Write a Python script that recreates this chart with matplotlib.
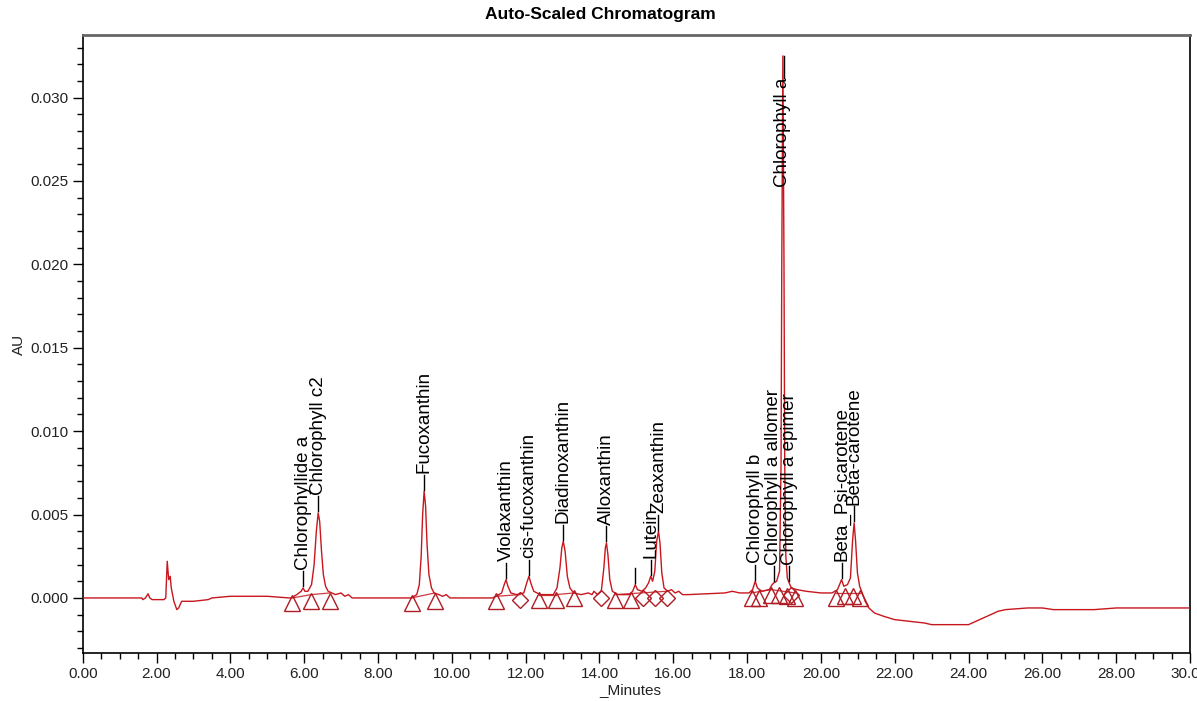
import matplotlib
matplotlib.use("Agg")
import matplotlib.pyplot as plt
from matplotlib.ticker import MultipleLocator, FormatStrFormatter

plt.rcParams['font.family'] = ['Liberation Sans', 'DejaVu Sans']

# ---- trace (minutes, AU) ----
time_min = [
    0.00, 1.60, 1.63, 1.70, 1.77, 1.82, 1.88, 2.20, 2.25, 2.29, 2.33, 2.37, 2.40, 2.47,
    2.55, 2.60, 2.68, 3.00, 3.40, 3.50, 4.00, 4.50, 5.00, 5.60,
    5.65, 5.80, 5.92, 5.97, 6.02, 6.10, 6.20, 6.27, 6.33, 6.38, 6.42, 6.47, 6.52, 6.58,
    6.65, 6.75, 6.85, 7.00, 7.10, 7.20, 7.30,
    8.90, 9.05, 9.12, 9.17, 9.21, 9.25, 9.29, 9.33, 9.38, 9.45, 9.52, 9.65, 9.75, 9.85,
    9.95, 11.10,
    11.20, 11.35, 11.42, 11.47, 11.52, 11.60, 11.75, 11.95, 12.03, 12.09, 12.14, 12.22,
    12.40, 12.75, 12.85, 12.93, 12.98, 13.02, 13.07, 13.13, 13.20, 13.30, 13.50, 13.70,
    13.80, 13.85, 13.95, 14.05, 14.12, 14.16, 14.19, 14.23, 14.28, 14.35, 14.50, 14.80,
    14.90, 14.97, 15.03, 15.15, 15.25, 15.33, 15.39, 15.44, 15.50, 15.55, 15.60, 15.64,
    15.69, 15.75, 15.85, 15.95, 16.05, 16.15, 16.25, 16.40,
    17.40, 17.60, 17.80, 18.05, 18.15, 18.22, 18.28, 18.40, 18.60, 18.68, 18.72, 18.80,
    18.88, 18.92, 18.94, 18.97, 19.00, 19.02, 19.05, 19.09, 19.14, 19.20, 19.35, 19.60,
    20.00, 20.30, 20.45, 20.56, 20.62, 20.72, 20.80, 20.86, 20.90, 20.94, 20.99, 21.05,
    21.12, 21.20, 21.30, 21.45, 21.70, 22.00, 22.40, 22.80, 23.00, 24.00, 24.20, 24.50,
    24.80, 25.00, 25.60, 26.00, 26.30, 27.40, 28.00, 30.00,
]
au = [
    0.0000, 0.0000, -0.0001, 0.0000, 0.00025, 0.0000, -0.0001, -0.0001, 0.0000, 0.0022,
    0.0011, 0.0013, 0.0006, -0.0002, -0.0007, -0.0006, -0.0002, -0.0002, -0.0001, 0.0000,
    0.0001, 0.0001, 0.0001, 0.0000,
    0.0000, 0.0002, 0.0004, 0.0006, 0.0004, 0.0004, 0.0008, 0.0020, 0.0040, 0.0051,
    0.0046, 0.0028, 0.0014, 0.0007, 0.0004, 0.0003, 0.0002, 0.0003, 0.0001, 0.0002,
    0.0000,
    0.0000, 0.0002, 0.0008, 0.0025, 0.0050, 0.0064, 0.0055, 0.0032, 0.0014, 0.0006,
    0.0003, 0.0002, 0.0001, 0.0002, 0.0000, 0.0000,
    0.0001, 0.0003, 0.0008, 0.0011, 0.0007, 0.0003, 0.0002, 0.0003, 0.0009, 0.0013,
    0.0009, 0.0004, 0.0002, 0.0002, 0.0006, 0.0018, 0.0030, 0.0034, 0.0028, 0.0013,
    0.0006, 0.0003, 0.0002, 0.0003, 0.0002, 0.0004, 0.0002, 0.0004, 0.0018, 0.0030,
    0.0033, 0.0026, 0.0011, 0.0004, 0.0002, 0.0002, 0.0004, 0.0008, 0.0005, 0.0004,
    0.0006, 0.0009, 0.0013, 0.0010, 0.0016, 0.0034, 0.0040, 0.0033, 0.0015, 0.0006,
    0.0004, 0.0005, 0.0003, 0.0004, 0.0002, 0.0002,
    0.0003, 0.0004, 0.0003, 0.0003, 0.0005, 0.0010, 0.0006, 0.0004, 0.0005, 0.0008,
    0.0009, 0.0010, 0.0016, 0.0080, 0.0200, 0.0325, 0.0200, 0.0080, 0.0025, 0.0012,
    0.0009, 0.0006, 0.0005, 0.0004,
    0.0003, 0.0003, 0.0005, 0.0011, 0.0007, 0.0008, 0.0012, 0.0035, 0.0045, 0.0034,
    0.0015, 0.0007, 0.0003, -0.0002, -0.0006, -0.0009, -0.0011, -0.0013, -0.0014,
    -0.0015, -0.0016, -0.0016, -0.0014, -0.0011, -0.0008, -0.0007, -0.0006, -0.0006,
    -0.0007, -0.0007, -0.0006, -0.0006,
]

# ---- peak labels ----
peak_names = [
    "Chlorophyllide a", "Chlorophyll c2", "Fucoxanthin", "Violaxanthin",
    "cis-fucoxanthin", "Diadinoxanthin", "Alloxanthin", "Lutein", "Zeaxanthin",
    "Chlorophyll b", "Chlorophyll a allomer", "Chlorophyll a epimer",
    "Beta_Psi-carotene", "Beta-carotene",
]
peak_times = [5.97, 6.38, 9.25, 11.47, 12.09, 13.02, 14.19, 15.39, 15.60,
              18.22, 18.72, 19.14, 20.56, 20.90]
peak_heights = [0.0006, 0.0051, 0.0064, 0.0011, 0.0013, 0.0034, 0.0033, 0.0013, 0.0040,
                0.0010, 0.0009, 0.0009, 0.0011, 0.0045]
unlabeled_peak_time = [14.97]
unlabeled_peak_height = [0.0008]

main_peak_name = "Chlorophyll a"
main_peak_time = 18.97
main_peak_height = 0.0325

# ---- integration marks ----
tri_times = [5.68, 6.19, 6.70, 8.91, 9.54, 11.21, 12.37, 12.81, 13.32, 14.42, 14.85,
             18.12, 18.33, 18.64, 18.86, 19.07, 19.31, 20.42, 20.64, 20.86, 21.05]
tri_values = [-0.0003, -0.0002, -0.0002, -0.0003, -0.0002, -0.0002, -0.0001, -0.0001,
              0.0000, -0.0001, -0.0001, 0.0000, 0.0000, 0.0002, 0.0002, 0.0001, 0.0000,
              0.0000, 0.0001, 0.0001, 0.0000]
dia_times = [11.85, 14.03, 15.18, 15.50, 15.82, 19.19]
dia_values = [-0.0001, 0.0000, 0.0000, 0.0000, 0.0000, 0.0002]

# ---- baselines drawn by the integrator ----
base_t0 = [5.68, 6.19, 8.91, 11.21, 12.37, 12.81, 14.42, 18.12, 18.64, 20.42]
base_v0 = [0.0000, 0.0002, 0.0000, 0.0001, 0.0002, 0.0002, 0.0002, 0.0003, 0.0005, 0.0003]
base_t1 = [6.19, 6.70, 9.54, 11.85, 12.81, 13.32, 15.82, 18.64, 19.31, 21.05]
base_v1 = [0.0002, 0.0003, 0.0003, 0.0002, 0.0002, 0.0003, 0.0004, 0.0005, 0.0003, 0.0003]

x_ticks = [0, 2, 4, 6, 8, 10, 12, 14, 16, 18, 20, 22, 24, 26, 28, 30]
y_ticks = [0.000, 0.005, 0.010, 0.015, 0.020, 0.025, 0.030]

RED = '#c8161d'
MARK = '#b01c24'

fig = plt.figure(figsize=(11.97, 7.01), dpi=100)
ax = fig.add_axes([82.7 / 1197, 48 / 701, (1190 - 82.7) / 1197, (653 - 35) / 701])

# integrator baselines
for t0, v0, t1, v1 in zip(base_t0, base_v0, base_t1, base_v1):
    ax.plot([t0, t1], [v0, v1], color=RED, lw=0.9, alpha=0.85, zorder=2)

ax.plot(time_min, au, color=RED, lw=1.0, zorder=3)

ax.plot(tri_times, tri_values, linestyle='none', marker='^', markersize=11,
        markerfacecolor='none', markeredgecolor=MARK, markeredgewidth=1.0, zorder=4)
ax.plot(dia_times, dia_values, linestyle='none', marker='D', markersize=8,
        markerfacecolor='none', markeredgecolor=MARK, markeredgewidth=1.0, zorder=4)

# peak labels
for name, t, h in zip(peak_names, peak_times, peak_heights):
    ax.plot([t, t], [h + 0.0001, h + 0.0010], color='black', lw=1.0, zorder=5)
    ax.text(t, h + 0.0011, name, rotation=90, ha='center', va='bottom',
            fontsize=13.5, color='black', zorder=6)
for t, h in zip(unlabeled_peak_time, unlabeled_peak_height):
    ax.plot([t, t], [h + 0.0001, h + 0.0010], color='black', lw=1.0, zorder=5)

ax.plot([main_peak_time + 0.03, main_peak_time + 0.03],
        [main_peak_height, main_peak_height - 0.0013], color='black', lw=1.0, zorder=5)
ax.text(main_peak_time - 0.02, main_peak_height - 0.0013, main_peak_name, rotation=90,
        ha='center', va='top', fontsize=13.5, color='black', zorder=6)

ax.set_xlim(0, 30)
ax.set_ylim(-0.0033, 0.03375)
ax.set_xticks(x_ticks)
ax.set_yticks(y_ticks)
ax.xaxis.set_major_formatter(FormatStrFormatter('%.2f'))
ax.yaxis.set_major_formatter(FormatStrFormatter('%.3f'))
ax.xaxis.set_minor_locator(MultipleLocator(0.5))
ax.yaxis.set_minor_locator(MultipleLocator(0.001))
ax.tick_params(axis='both', which='major', direction='out', length=7, width=1,
               labelsize=11, pad=3, colors='black', labelcolor='#222222')
ax.tick_params(axis='both', which='minor', direction='out', length=4, width=1)

for side in ['left', 'bottom', 'right']:
    ax.spines[side].set_color('black')
    ax.spines[side].set_linewidth(1.2)
ax.spines['top'].set_color('#666666')
ax.spines['top'].set_linewidth(2.0)

fig.text(600 / 1197, 1 - 14 / 701, "Auto-Scaled Chromatogram", ha='center', va='center',
         fontsize=12.5, fontweight='bold')
fig.text(630 / 1197, 1 - 690 / 701, "_Minutes", ha='center', va='center', fontsize=11,
         color='#222222')
fig.text(19 / 1197, 1 - 344 / 701, "AU", ha='center', va='center', rotation=90,
         fontsize=11, color='#222222')

fig.savefig("out.png", dpi=100, facecolor='white')
